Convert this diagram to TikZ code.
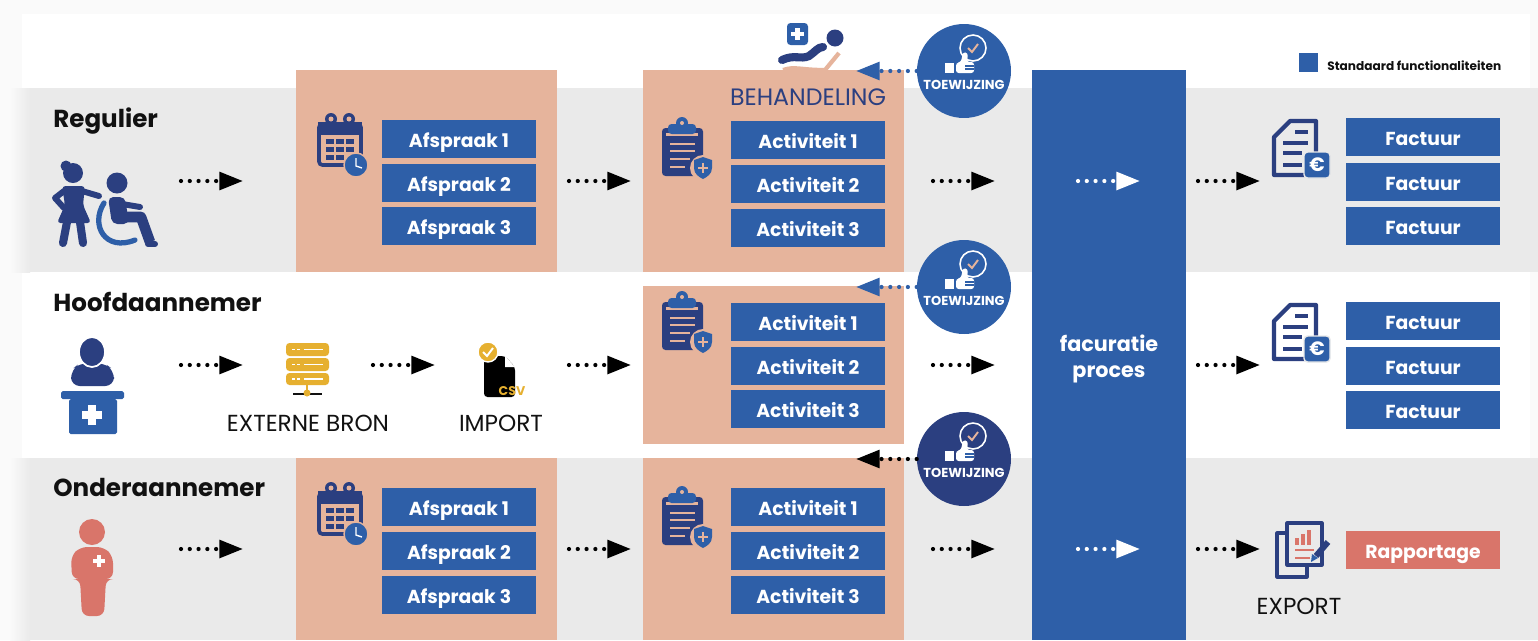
\documentclass[tikz,border=0pt]{standalone}
\usepackage{fontspec}
\setmainfont{Poppins}
\usetikzlibrary{arrows.meta}

\definecolor{bandgrey}{HTML}{EAEAEA}
\definecolor{edgegrey}{HTML}{FAFAFA}
\definecolor{peach}{HTML}{E6B49C}
\definecolor{stdblue}{HTML}{2E5FA8}
\definecolor{navy}{HTML}{2B3F80}
\definecolor{salmon}{HTML}{D9756A}
\definecolor{gold}{HTML}{E6B030}
\definecolor{inkblack}{HTML}{111111}

\tikzset{
  flow/.style={dash pattern=on 0pt off 5pt, line cap=round, line width=2.4pt, -{Triangle[length=13.5pt,width=10pt]}},
  stdbox/.style={fill=stdblue, text=white, minimum width=3.08cm, minimum height=.76cm, inner sep=0, text height=10.8pt, text depth=1.6pt, font=\fontsize{10.7}{12}\selectfont\bfseries},
  reportbox/.style={stdbox, fill=salmon},
  rowtitle/.style={anchor=base west, inner sep=0, text=inkblack, font=\fontsize{14}{16}\selectfont\bfseries},
  plainlabel/.style={inner sep=0, text=inkblack, font=\fontsize{13.2}{15}\selectfont},
  okcircle/.style={circle, fill=stdblue, minimum size=1.88cm, inner sep=0},
  oklabel/.style={inner sep=0, text=white, font=\fontsize{7.4}{9}\selectfont\bfseries},
  calicon/.pic={
    \draw [navy, line width=2.1pt, rounded corners=2pt] (-21,-21) rectangle (21,20);
    \fill [navy] (-22,-23) rectangle (22,-10);
    \fill [navy] (-9,-26) circle (6);
    \fill [navy] (9,-26) circle (6);
    \fill [peach] (-9,-26) circle (2.5);
    \fill [peach] (9,-26) circle (2.5);
    \fill [navy] (-14,-6) rectangle (-6,-1);
    \fill [navy] (-4,-6) rectangle (4,-1);
    \fill [navy] (6,-6) rectangle (14,-1);
    \fill [navy] (-14,2) rectangle (-6,7);
    \fill [navy] (-4,2) rectangle (4,7);
    \fill [navy] (6,2) rectangle (14,7);
    \fill [navy] (-14,10) rectangle (-6,15);
    \fill [navy] (-4,10) rectangle (4,15);
    \draw [stdblue, fill=stdblue, draw=peach, line width=.8pt] (16,20) circle (12);
    \draw [white, line width=.8pt] (16,13) -- (16,21) -- (22,23);
  },
  clipicon/.pic={
    \fill [navy, rounded corners=2pt] (-20,-19) rectangle (21,29);
    \fill [peach] (-16,-14) rectangle (16,-11);
    \fill [stdblue, rounded corners=2pt] (-14,-23) rectangle (14,-13);
    \fill [stdblue] (0,-24) circle (6);
    \fill [peach] (0,-24) circle (2);
    \draw [peach, line width=1.6pt] (-12,-3) -- (13,-3);
    \draw [peach, line width=1.6pt] (-12,4) -- (13,4);
    \draw [peach, line width=1.6pt] (-12,12) -- (8,12);
    \draw [peach, line width=1.6pt] (-12,20) -- (3,20);
    \fill [peach] (21,21) circle (13);
    \fill [stdblue] (12,13) -- (21,10) -- (30,13) -- (30,21) .. controls (30,27) and (25,30) .. (21,32) .. controls (17,30) and (12,27) .. (12,21) -- cycle;
    \draw [peach, line width=1pt] (16,21) -- (26,21);
    \draw [peach, line width=1pt] (21,16) -- (21,26);
  },
  facticon/.pic={
    \draw [navy, line width=2.4pt, line join=round] (-26,-10) -- (-10,-26) -- (16,-26) -- (16,28) -- (-26,28) -- cycle;
    \draw [navy, line width=2.4pt] (-5,-15) -- (8,-15);
    \draw [navy, line width=2.4pt] (-17,-4) -- (8,-4);
    \draw [navy, line width=2.4pt] (-17,6) -- (2,6);
    \draw [navy, line width=2.4pt] (-17,18) -- (2,18);
    \draw [fill=stdblue, draw=bandgrey, line width=.8pt, rounded corners=2pt] (4,5) rectangle (30,31);
    \node (euro) [inner sep=0, text=white, font=\fontsize{11}{12}\selectfont\bfseries] at (17,18) {€};
  },
  okicon/.pic={
    \draw [white, line width=.9pt] (9,-23) circle (13);
    \draw [peach, line width=1.1pt] (4,-23) -- (8,-19) -- (14,-27);
    \fill [white] (-19,-8) rectangle (-10,2);
    \fill [white, rounded corners=1.5pt] (-8,-8) -- (-3,-9) -- (-1,-19) -- (4,-18) -- (3,-9) -- (10,-9) -- (10,2) -- (-8,2) -- cycle;
    \draw [stdblue, line width=.6pt] (1,-5) -- (10,-5);
    \draw [stdblue, line width=.6pt] (1,-2) -- (10,-2);
  }
}

\begin{document}
\begin{tikzpicture}[x=0.02cm, y=-0.02cm]
  \useasboundingbox (0,0) rectangle (1538,640);

  % background
  \fill [edgegrey] (0,0) rectangle (1538,640);
  \fill [white] (22,14) rectangle (1530,640);
  \fill [bandgrey] (30,88) rectangle (1538,272);
  \fill [bandgrey] (30,458) rectangle (1538,640);
  \fill [left color=edgegrey, right color=bandgrey] (10,88) rectangle (30,272);
  \fill [left color=edgegrey, right color=bandgrey] (10,458) rectangle (30,640);

  % panels
  \fill [peach] (296,70) rectangle (557,272);
  \fill [peach] (643,70) rectangle (904,272);
  \fill [peach] (643,286) rectangle (904,444);
  \fill [peach] (296,458) rectangle (557,640);
  \fill [peach] (643,458) rectangle (904,640);
  \fill [stdblue] (1032,70) rectangle (1186,640);

  % legend
  \fill [stdblue] (1299,53) rectangle (1318,72);
  \node (legend) [anchor=west, inner sep=0, text=inkblack, font=\fontsize{6.9}{8}\selectfont\bfseries] at (1327,66) {Standaard functionaliteiten};

  % row titles
  \node (regulier) [rowtitle] at (53,127) {Regulier};
  \node (hoofd) [rowtitle] at (53,311) {Hoofdaannemer};
  \node (onder) [rowtitle] at (53,496) {Onderaannemer};

  % wheelchair and helper
  \fill [navy] (73,173) circle (10);
  \fill [navy] (66,166) circle (5.5);
  \fill [navy, rounded corners=2pt] (62,186) -- (85,186) -- (83,205) -- (91,223) -- (57,223) -- (65,205) -- cycle;
  \draw [navy, line width=3.4pt, line cap=round] (82,191) -- (99,196);
  \draw [navy, line width=3.4pt, line cap=round, line join=round] (64,191) -- (55,198) -- (64,208);
  \draw [navy, line width=4.6pt, line cap=round] (67,222) -- (63,243);
  \draw [navy, line width=4.6pt, line cap=round] (80,222) -- (83,243);
  \fill [navy] (117,183) circle (10.5);
  \draw [stdblue, line width=3pt, line cap=round] (104,203) .. controls (90,225) and (105,252) .. (135,240);
  \fill [navy, rounded corners=3pt] (108,197) -- (125,197) -- (129,224) -- (112,224) -- cycle;
  \draw [navy, line width=3.4pt, line cap=round] (122,204) -- (140,207);
  \draw [navy, line width=6pt, line join=round] (116,217) -- (141,217) -- (150,242);
  \draw [navy, line width=3.4pt, line cap=round] (148,244) -- (155,244);

  % desk person
  \fill [navy, rounded corners=5pt] (71,386) -- (71,370) -- (80,363) -- (104,363) -- (114,370) -- (114,386) -- cycle;
  \draw [navy, fill=navy, draw=white, line width=1pt] (92,352) ellipse (13 and 15);
  \fill [stdblue, rounded corners=1pt] (61,391) rectangle (124,399);
  \fill [stdblue, rounded corners=1pt] (69,399) rectangle (117,434);
  \fill [white] (88,405) rectangle (96,425);
  \fill [white] (82,411) rectangle (102,419);

  % nurse
  \fill [salmon] (92,532) circle (13);
  \fill [salmon, rounded corners=4pt] (72,579) -- (71,556) -- (80,547) -- (104,547) -- (113,556) -- (113,579) -- (106,579) -- (104,616) -- (82,616) -- (80,579) -- cycle;
  \fill [white] (97,555) rectangle (101,567);
  \fill [white] (93,559) rectangle (105,563);

  % server
  \fill [gold, rounded corners=2pt] (286,343) rectangle (329,356);
  \fill [gold, rounded corners=2pt] (286,358) rectangle (329,371);
  \fill [gold, rounded corners=2pt] (286,373) rectangle (329,385);
  \draw [white, line width=.8pt] (304,349.5) -- (323,349.5);
  \draw [white, line width=.8pt] (304,364.5) -- (323,364.5);
  \draw [white, line width=.8pt] (304,379) -- (323,379);
  \draw [white, line width=.8pt, dash pattern=on 1.5pt off 1.5pt] (292,349.5) -- (300,349.5);
  \draw [white, line width=.8pt, dash pattern=on 1.5pt off 1.5pt] (292,364.5) -- (300,364.5);
  \draw [white, line width=.8pt, dash pattern=on 1.5pt off 1.5pt] (292,379) -- (300,379);
  \draw [inkblack, line width=1.1pt] (293,394) -- (322,394);
  \draw [gold, line width=1.2pt] (307,385) -- (307,392);
  \fill [gold] (307,393) circle (3.5);

  % csv file
  \fill [black, rounded corners=2pt] (484,356) -- (505,356) -- (515,367) -- (515,397) -- (484,397) -- cycle;
  \fill [white] (505,356) -- (515,367) -- (505,367) -- cycle;
  \draw [white, fill=gold, line width=.8pt] (488,352) circle (10);
  \draw [white, line width=1.1pt] (483,352) -- (487,356) -- (493,348);
  \node (csv) [inner sep=0, text=gold, font=\fontsize{7.2}{8}\selectfont\bfseries] at (512,391) {CSV};

  \node (bron) [plainlabel] at (308,423) {EXTERNE BRON};
  \node (import) [plainlabel] at (501,423) {IMPORT};
  \node (export) [plainlabel] at (1299,606) {EXPORT};

  % treatment chair
  \fill [stdblue, rounded corners=2pt] (787,23) rectangle (808,45);
  \fill [white] (795,28) rectangle (800,40);
  \fill [white] (791,32) rectangle (804,36);
  \fill [navy] (835,38) circle (8.5);
  \draw [navy, line width=4.6pt, line cap=round] (782,60) .. controls (795,54) and (800,60) .. (809,56) .. controls (815,52) and (818,47) .. (823,47);
  \draw [peach, line width=2.4pt] (783,70) .. controls (795,66) and (800,70) .. (825,70) -- (839,53);
  \node (behandeling) [inner sep=0, text=navy, font=\fontsize{13.5}{15}\selectfont] at (808,97) {BEHANDELING};

  % agenda, clipboard, invoice icons
  \pic (cala) at (340,145) {calicon};
  \pic (calb) at (340,514) {calicon};
  \pic (clipa) at (682,147) {clipicon};
  \pic (clipb) at (682,321) {clipicon};
  \pic (clipc) at (682,516) {clipicon};
  \pic (facta) at (1300,147) {facticon};
  \pic (factb) at (1300,331) {facticon};

  % report icon
  \draw [navy, line width=1.8pt, line join=round] (1277,533) rectangle (1307,577);
  \draw [navy, fill=bandgrey, line width=1.8pt, line join=round] (1287,523) rectangle (1322,565);
  \fill [salmon] (1295,538) rectangle (1299,545);
  \fill [salmon] (1301,534) rectangle (1305,545);
  \fill [salmon] (1307,530) rectangle (1311,545);
  \draw [salmon, line width=1.3pt] (1295,550) -- (1314,550);
  \draw [salmon, line width=1.3pt] (1295,558) -- (1310,558);
  \draw [navy, line width=3.4pt] (1328,542) -- (1316,556);
  \fill [stdblue] (1318,558) -- (1311,562) -- (1312,554) -- cycle;

  % boxes
  \node (afa) [stdbox] at (459,139) {Afspraak 1};
  \node (afb) [stdbox] at (459,183) {Afspraak 2};
  \node (afc) [stdbox] at (459,226) {Afspraak 3};
  \node (ofa) [stdbox] at (459,507) {Afspraak 1};
  \node (ofb) [stdbox] at (459,551) {Afspraak 2};
  \node (ofc) [stdbox] at (459,595) {Afspraak 3};

  \node (aca) [stdbox] at (808,140) {Activiteit 1};
  \node (acb) [stdbox] at (808,184) {Activiteit 2};
  \node (acc) [stdbox] at (808,228) {Activiteit 3};
  \node (hca) [stdbox] at (808,322) {Activiteit 1};
  \node (hcb) [stdbox] at (808,366) {Activiteit 2};
  \node (hcc) [stdbox] at (808,409) {Activiteit 3};
  \node (oca) [stdbox] at (808,507) {Activiteit 1};
  \node (ocb) [stdbox] at (808,551) {Activiteit 2};
  \node (occ) [stdbox] at (808,595) {Activiteit 3};

  \node (faa) [stdbox] at (1423,137) {Factuur};
  \node (fab) [stdbox] at (1423,182) {Factuur};
  \node (fac) [stdbox] at (1423,226) {Factuur};
  \node (fba) [stdbox] at (1423,321) {Factuur};
  \node (fbb) [stdbox] at (1423,366) {Factuur};
  \node (fbc) [stdbox] at (1423,410) {Factuur};
  \node (rapport) [reportbox] at (1423,550) {Rapportage};

  \node (proces) [inner sep=0, align=center, text=white, font=\fontsize{11.8}{14.8}\selectfont\bfseries] at (1109,359) {facuratie\\proces};

  % toewijzing circles
  \node (oka) [okcircle] at (964,71) {};
  \node (okb) [okcircle] at (964,287) {};
  \node (okc) [okcircle, fill=navy] at (964,459) {};
  \pic (thumba) at (964,71) {okicon};
  \pic (thumbb) at (964,287) {okicon};
  \pic (thumbc) at (964,459) {okicon};
  \node (oktexta) [oklabel] at (964,85) {TOEWIJZING};
  \node (oktextb) [oklabel] at (964,301) {TOEWIJZING};
  \node (oktextc) [oklabel] at (964,473) {TOEWIJZING};

  \coordinate (oka end) at (856,71);
  \coordinate (okb end) at (856,287);
  \coordinate (okc end) at (856,459);
  \draw [flow, stdblue] (oka) -- (oka end);
  \draw [flow, stdblue] (okb) -- (okb end);
  \draw [flow, black] (okc) -- (okc end);

  % flow arrows, top row
  \coordinate (a1) at (181,181);
  \coordinate (a2) at (243,181);
  \coordinate (a3) at (569,181);
  \coordinate (a4) at (631,181);
  \coordinate (a5) at (933,181);
  \coordinate (a6) at (995,181);
  \coordinate (a7) at (1078,181);
  \coordinate (a8) at (1140,181);
  \coordinate (a9) at (1198,181);
  \coordinate (a10) at (1260,181);
  \draw [flow] (a1) -- (a2);
  \draw [flow] (a3) -- (a4);
  \draw [flow] (a5) -- (a6);
  \draw [flow, white] (a7) -- (a8);
  \draw [flow] (a9) -- (a10);

  % flow arrows, middle row
  \coordinate (b1) at (181,365);
  \coordinate (b2) at (243,365);
  \coordinate (b3) at (373,365);
  \coordinate (b4) at (435,365);
  \coordinate (b5) at (569,365);
  \coordinate (b6) at (631,365);
  \coordinate (b7) at (933,365);
  \coordinate (b8) at (995,365);
  \coordinate (b9) at (1198,365);
  \coordinate (b10) at (1260,365);
  \draw [flow] (b1) -- (b2);
  \draw [flow] (b3) -- (b4);
  \draw [flow] (b5) -- (b6);
  \draw [flow] (b7) -- (b8);
  \draw [flow] (b9) -- (b10);

  % flow arrows, bottom row
  \coordinate (c1) at (181,549);
  \coordinate (c2) at (243,549);
  \coordinate (c3) at (569,549);
  \coordinate (c4) at (631,549);
  \coordinate (c5) at (933,549);
  \coordinate (c6) at (995,549);
  \coordinate (c7) at (1078,549);
  \coordinate (c8) at (1140,549);
  \coordinate (c9) at (1198,549);
  \coordinate (c10) at (1260,549);
  \draw [flow] (c1) -- (c2);
  \draw [flow] (c3) -- (c4);
  \draw [flow] (c5) -- (c6);
  \draw [flow, white] (c7) -- (c8);
  \draw [flow] (c9) -- (c10);
\end{tikzpicture}
\end{document}
